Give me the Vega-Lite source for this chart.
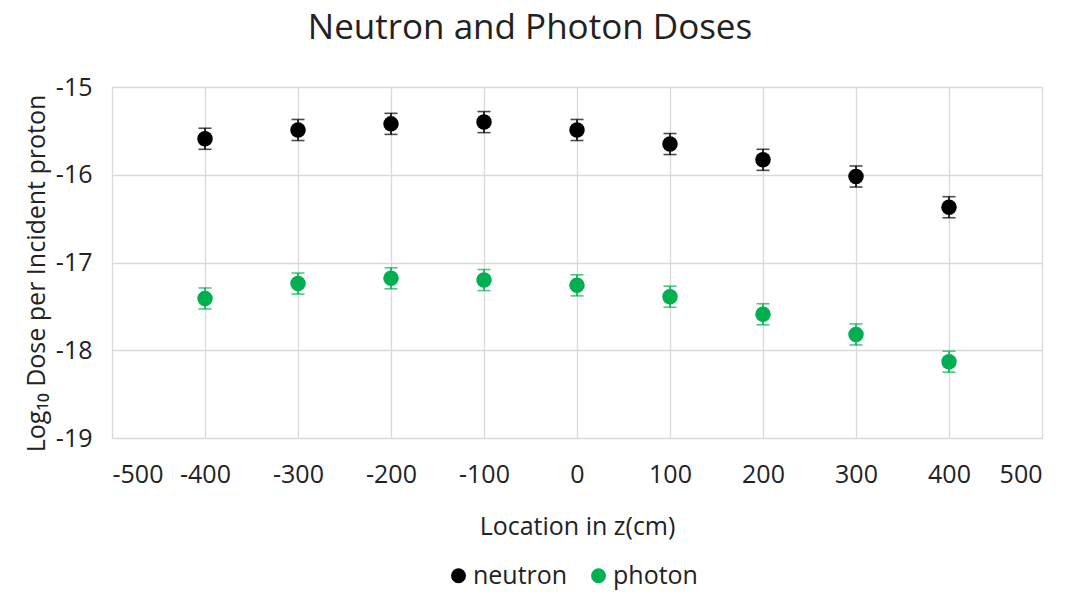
{
  "$schema": "https://vega.github.io/schema/vega-lite/v6.json",
  "width": 930,
  "height": 351,
  "autosize": {"type": "none"},
  "padding": {"left": 112, "top": 87, "right": 26, "bottom": 154},
  "background": "white",
  "config": {
    "font": "Open Sans",
    "view": {"stroke": null},
    "axis": {"labelFont": "Open Sans", "titleFont": "Open Sans"}
  },
  "title": {
    "text": "Neutron and Photon Doses",
    "fontSize": 35,
    "font": "Open Sans",
    "fontWeight": "normal",
    "color": "#222222",
    "anchor": "middle",
    "dx": -47,
    "offset": 29
  },
  "data": {
    "values": [
      {"z": -400, "dose": -15.59, "err": 0.12, "type": "neutron"},
      {"z": -300, "dose": -15.49, "err": 0.12, "type": "neutron"},
      {"z": -200, "dose": -15.42, "err": 0.12, "type": "neutron"},
      {"z": -100, "dose": -15.40, "err": 0.12, "type": "neutron"},
      {"z": 0, "dose": -15.49, "err": 0.12, "type": "neutron"},
      {"z": 100, "dose": -15.65, "err": 0.12, "type": "neutron"},
      {"z": 200, "dose": -15.83, "err": 0.12, "type": "neutron"},
      {"z": 300, "dose": -16.02, "err": 0.12, "type": "neutron"},
      {"z": 400, "dose": -16.37, "err": 0.12, "type": "neutron"},
      {"z": -400, "dose": -17.41, "err": 0.12, "type": "photon"},
      {"z": -300, "dose": -17.24, "err": 0.12, "type": "photon"},
      {"z": -200, "dose": -17.18, "err": 0.12, "type": "photon"},
      {"z": -100, "dose": -17.20, "err": 0.12, "type": "photon"},
      {"z": 0, "dose": -17.26, "err": 0.12, "type": "photon"},
      {"z": 100, "dose": -17.39, "err": 0.12, "type": "photon"},
      {"z": 200, "dose": -17.59, "err": 0.12, "type": "photon"},
      {"z": 300, "dose": -17.82, "err": 0.12, "type": "photon"},
      {"z": 400, "dose": -18.13, "err": 0.12, "type": "photon"}
    ]
  },
  "encoding": {
    "x": {
      "field": "z",
      "type": "quantitative",
      "scale": {"domain": [-500, 500], "nice": false, "zero": false},
      "axis": {
        "values": [-500, -400, -300, -200, -100, 0, 100, 200, 300, 400, 500],
        "labelExpr": "'' + datum.value",
        "title": "Location in z(cm)",
        "titleFontSize": 25,
        "titleFontWeight": "normal",
        "titleColor": "#222222",
        "titlePadding": 27,
        "labelFontSize": 25,
        "labelColor": "#222222",
        "labelPadding": 24,
        "ticks": false,
        "domain": false,
        "grid": true,
        "gridColor": "#d9d9d9",
        "gridWidth": 1.3
      }
    },
    "color": {
      "field": "type",
      "type": "nominal",
      "scale": {"domain": ["neutron", "photon"], "range": ["#000000", "#00B050"]},
      "legend": {
        "title": null,
        "orient": "none",
        "direction": "horizontal",
        "legendX": 334,
        "legendY": 476,
        "symbolType": "circle",
        "symbolSize": 220,
        "symbolOpacity": 1,
        "symbolStrokeWidth": 0,
        "labelFontSize": 25,
        "labelColor": "#222222",
        "labelFont": "Open Sans",
        "columnPadding": 18,
        "labelOffset": 2
      }
    }
  },
  "layer": [
    {
      "mark": {"type": "errorbar", "ticks": {"size": 13, "thickness": 1.6}, "thickness": 1.6},
      "encoding": {
        "y": {
          "field": "dose",
          "type": "quantitative",
          "scale": {"domain": [-19, -15], "nice": false, "zero": false},
          "axis": {
            "values": [-19, -18, -17, -16, -15],
            "labelExpr": "'' + datum.value",
            "title": "Log₁₀ Dose per Incident proton",
            "titleFontSize": 25,
            "titleFontWeight": "normal",
            "titleColor": "#222222",
            "titlePadding": 6,
            "titleY": 186,
            "labelFontSize": 25,
            "labelColor": "#222222",
            "labelPadding": 20,
            "ticks": false,
            "domain": false,
            "grid": true,
            "gridColor": "#d9d9d9",
            "gridWidth": 1.3
          }
        },
        "yError": {"field": "err"}
      }
    },
    {
      "mark": {"type": "point", "filled": true, "shape": "circle", "size": 240, "opacity": 1},
      "encoding": {
        "y": {"field": "dose", "type": "quantitative"}
      }
    }
  ]
}
